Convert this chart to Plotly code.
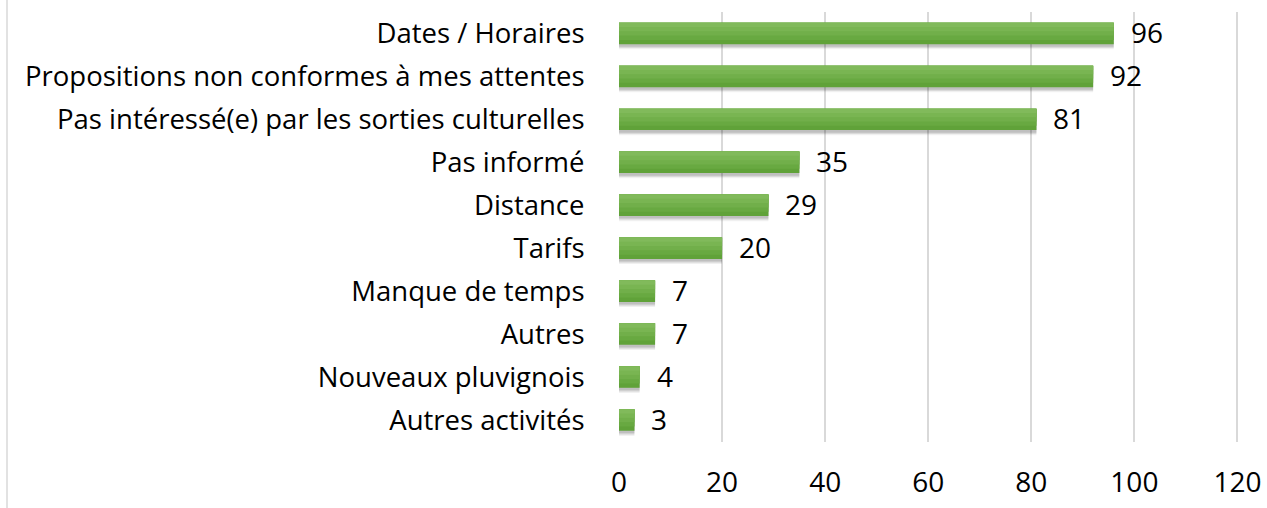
import plotly.graph_objects as go

categories = [
    "Dates / Horaires",
    "Propositions non conformes à mes attentes",
    "Pas intéressé(e) par les sorties culturelles",
    "Pas informé",
    "Distance",
    "Tarifs",
    "Manque de temps",
    "Autres",
    "Nouveaux pluvignois",
    "Autres activités",
]
values = [96, 92, 81, 35, 29, 20, 7, 7, 4, 3]
x_ticks = [0, 20, 40, 60, 80, 100, 120]

FONT = "Open Sans"
W, H = 1267, 508
ML, MR, MT, MB = 619, 28, 12, 66

fig = go.Figure()

# soft shadow layers below the bars
for dy, alpha in [(0.12, 0.06), (0.09, 0.09), (0.06, 0.12)]:
    fig.add_trace(go.Bar(
        x=values, y=categories, orientation="h",
        width=0.5, offset=-0.25 + dy,
        marker=dict(color=f"rgba(0,0,0,{alpha})", line=dict(width=0)),
        hoverinfo="skip", showlegend=False,
    ))

# gradient: nested overlays from the top edge (top lighter -> bottom darker)
strip_colors = ["#60A239", "#68A941", "#71AF4A", "#79B552", "#81BA5B"]
n = len(strip_colors)
for i, c in enumerate(strip_colors):
    fig.add_trace(go.Bar(
        x=values, y=categories, orientation="h",
        width=0.5 * (n - i) / n, offset=-0.25,
        marker=dict(color=c, line=dict(width=0)),
        showlegend=False,
    ))

for v, c in zip(values, categories):
    fig.add_annotation(
        x=v, y=c, text=str(v), showarrow=False,
        xanchor="left", yanchor="middle", xshift=15, yshift=1,
        font=dict(family=FONT, size=28, color="#000000"),
    )

fig.add_shape(
    type="line", xref="paper", yref="paper",
    x0=(7 - ML) / (W - ML - MR), x1=(7 - ML) / (W - ML - MR),
    y0=-MB / (H - MT - MB), y1=1 + MT / (H - MT - MB),
    line=dict(color="#D9D9D9", width=1.5),
)

fig.update_layout(
    width=W, height=H,
    margin=dict(l=ML, r=MR, t=MT, b=MB),
    paper_bgcolor="white", plot_bgcolor="white",
    barmode="overlay",
    font=dict(family=FONT, size=26, color="#000000"),
    xaxis=dict(
        range=[0, 120.3], tickvals=x_ticks, ticktext=[str(t) for t in x_ticks],
        showgrid=True, gridcolor="#D9D9D9", gridwidth=1.5,
        zeroline=False, showline=False,
        ticks="outside", ticklen=15, tickcolor="rgba(0,0,0,0)",
        tickfont=dict(family=FONT, size=28),
        automargin=False, fixedrange=True,
    ),
    yaxis=dict(
        categoryorder="array", categoryarray=categories,
        autorange="reversed",
        showgrid=False, zeroline=False, showline=False,
        ticks="outside", ticklen=28, tickcolor="rgba(0,0,0,0)",
        tickfont=dict(family=FONT, size=27.5),
        automargin=False, fixedrange=True,
    ),
)

fig.write_html(
    "out.html",
    config={"displayModeBar": False},
    post_script="document.body.style.margin='0';document.body.style.overflow='hidden';",
)
